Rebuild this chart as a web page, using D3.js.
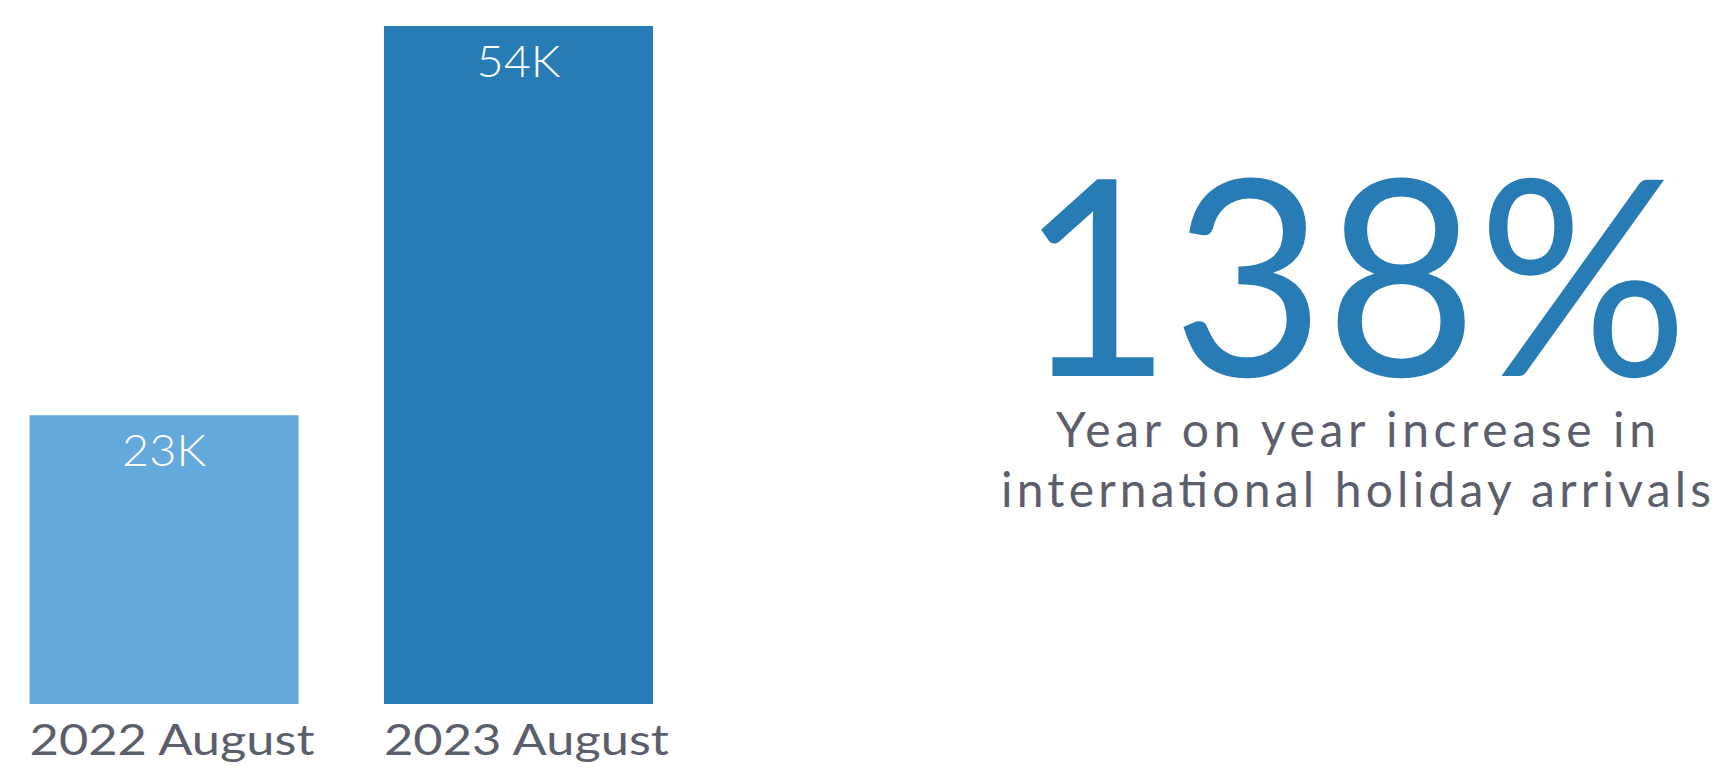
<!DOCTYPE html>
<html>
<head>
<meta charset="utf-8">
<script src="https://cdn.jsdelivr.net/npm/d3@7"></script>
<style>
  html, body { margin: 0; padding: 0; background: #fff; }
  svg { display: block; font-family: Lato, "Open Sans", sans-serif; }
</style>
</head>
<body>
<svg id="chart" width="1720" height="768"></svg>
<script>
// Monthly international holiday arrivals (thousands)
const categories = ["2022 August", "2023 August"];
const arrivals = [23, 54];
const valueLabels = ["23K", "54K"];
const barColors = ["#63a9db", "#287cb5"];

// Headline figure
const headline = "138%";
const captionLines = ["Year on year increase in", "international holiday arrivals"];

const svg = d3.select("#chart");
const textGrey = "#5b5f6c";

const x = d3.scaleBand()
  .domain(categories)
  .range([29.6, 653])
  .paddingInner(0.241)
  .paddingOuter(0);

const y = d3.scaleLinear()
  .domain([0, 54])
  .range([704, 26]);

const data = categories.map((c, i) => ({ cat: c, value: arrivals[i], label: valueLabels[i], color: barColors[i] }));

// Bars
svg.append("g").selectAll("rect")
  .data(data)
  .join("rect")
  .attr("x", d => x(d.cat))
  .attr("y", d => y(d.value))
  .attr("width", x.bandwidth())
  .attr("height", d => y(0) - y(d.value))
  .attr("fill", d => d.color);

// Value labels inside the top of each bar
svg.append("g").selectAll("text")
  .data(data)
  .join("text")
  .attr("x", d => x(d.cat) + x.bandwidth() / 2)
  .attr("y", d => y(d.value) + 51)
  .attr("text-anchor", "middle")
  .attr("fill", "#ffffff")
  .attr("font-size", 43)
  .attr("font-weight", 300)
  .attr("textLength", 84)
  .attr("lengthAdjust", "spacingAndGlyphs")
  .text(d => d.label);

// Category labels, left-aligned under each bar
svg.append("g").selectAll("text")
  .data(data)
  .join("text")
  .attr("x", d => x(d.cat))
  .attr("y", 755)
  .attr("fill", textGrey)
  .attr("font-size", 42)
  .attr("font-weight", 400)
  .attr("textLength", 285)
  .attr("lengthAdjust", "spacingAndGlyphs")
  .text(d => d.cat);

// Headline percentage
svg.append("text")
  .attr("x", 1354)
  .attr("y", 376)
  .attr("text-anchor", "middle")
  .attr("fill", barColors[1])
  .attr("font-size", 274)
  .attr("font-weight", 400)
  .attr("textLength", 669)
  .attr("lengthAdjust", "spacingAndGlyphs")
  .text(headline);

// Caption
const captionX = 1356;
const captionY = [447, 507];
const captionW = [600, 710];
svg.append("g").selectAll("text")
  .data(captionLines)
  .join("text")
  .attr("x", captionX)
  .attr("y", (d, i) => captionY[i])
  .attr("text-anchor", "middle")
  .attr("fill", textGrey)
  .attr("font-size", 48)
  .attr("font-weight", 400)
  .attr("textLength", (d, i) => captionW[i])
  .attr("lengthAdjust", "spacing")
  .text(d => d);
</script>
</body>
</html>
